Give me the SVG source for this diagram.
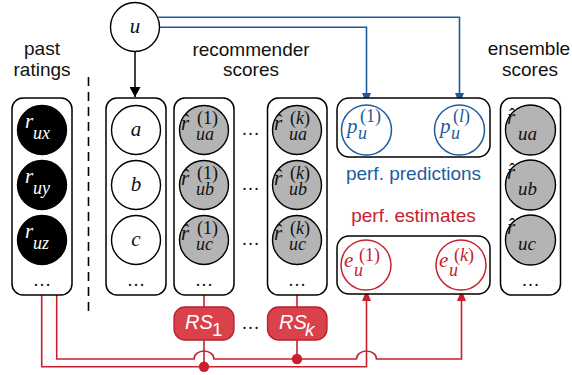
<svg xmlns="http://www.w3.org/2000/svg" width="572" height="375" viewBox="0 0 572 375">
<style>
.hdr{font-family:"Liberation Sans",Arial,sans-serif;font-size:19px;fill:#111;text-anchor:middle}
.box{fill:#fff;stroke:#000;stroke-width:1.5}
.cw{fill:#fff;stroke:#000;stroke-width:1.4}
.cg{fill:#b4b4b4;stroke:#000;stroke-width:1.4}
.cb{fill:#000;stroke:#000;stroke-width:1.4}
.mt{font-family:"Liberation Serif","Times New Roman",serif;fill:#111}
.m{font-style:italic;font-size:21px}
.h{font-style:normal;font-size:19px}
.s{font-style:italic;font-size:18px}
.n{font-style:normal;font-size:18px}
.w{fill:#fff}
.bl{fill:#1c5c9e}
.rd{fill:#c9202f}
.dots{font-family:"Liberation Serif","Times New Roman",serif;font-size:18px;fill:#111;text-anchor:middle}
.blue{stroke:#1c5c9e;fill:none;stroke-width:1.6}
.red{stroke:#c9202f;fill:none;stroke-width:1.6}
.cbl{fill:#fff;stroke:#1c5c9e;stroke-width:1.5}
.crd{fill:#fff;stroke:#c9202f;stroke-width:1.5}
.rs{fill:#d9414b;stroke:#b8212e;stroke-width:1.3}
.rst{font-family:"Liberation Sans",Arial,sans-serif;fill:#fff}
</style>
<defs>
<marker id="ab" markerWidth="10" markerHeight="11" refX="10" refY="5.5" orient="auto" markerUnits="userSpaceOnUse"><path d="M0,0 L10,5.5 L0,11 Z" fill="#000"/></marker>
<marker id="abl" markerWidth="11" markerHeight="9" refX="11" refY="4.5" orient="auto" markerUnits="userSpaceOnUse"><path d="M0,0 L11,4.5 L0,9 Z" fill="#1c5c9e"/></marker>
<marker id="ard" markerWidth="11" markerHeight="9" refX="11" refY="4.5" orient="auto" markerUnits="userSpaceOnUse"><path d="M0,0 L11,4.5 L0,9 Z" fill="#c9202f"/></marker>
</defs>

<g id="headers">
<text class="hdr" x="42" y="55">past</text>
<text class="hdr" x="42" y="75.5">ratings</text>
<text class="hdr" x="251" y="56">recommender</text>
<text class="hdr" x="251" y="76">scores</text>
<text class="hdr" x="529" y="55">ensemble</text>
<text class="hdr" x="530" y="76">scores</text>
<text x="413.5" y="180" style="font-family:'Liberation Sans',Arial,sans-serif;font-size:19px;fill:#1c5c9e;text-anchor:middle">perf. predictions</text>
<text x="413.5" y="221.5" style="font-family:'Liberation Sans',Arial,sans-serif;font-size:19px;fill:#c9202f;text-anchor:middle">perf. estimates</text>
</g>

<line x1="88.5" y1="77" x2="88.5" y2="315" stroke="#000" stroke-width="1.6" stroke-dasharray="9,6"/>

<g id="connectors">
<line x1="135" y1="52" x2="135" y2="97" stroke="#000" stroke-width="1.5" marker-end="url(#ab)"/>
<path class="blue" d="M158.5,17.3 H459.5 V104" marker-end="url(#abl)"/>
<path class="blue" d="M160,27.3 H366.5 V104" marker-end="url(#abl)"/>
<line class="red" x1="204" y1="295" x2="204" y2="307"/>
<line class="red" x1="297" y1="295" x2="297" y2="307"/>
<line class="red" x1="204" y1="340" x2="204" y2="366.7"/>
<line class="red" x1="297" y1="340" x2="297" y2="359"/>
<path class="red" d="M41.7,295 V366.7 H366.5 V290" marker-end="url(#ard)"/>
<path class="red" d="M56.7,295 V359 H194 A10,8 0 0 1 214,359 H356.5 A10,8 0 0 1 376.5,359 H461.5 V290" marker-end="url(#ard)"/>
<circle cx="204" cy="366.7" r="5.2" fill="#c9202f"/>
<circle cx="297" cy="359" r="5.2" fill="#c9202f"/>
</g>

<g id="node-u">
<circle class="cw" cx="135" cy="27" r="24.5"/>
<text class="mt m" x="135" y="33" text-anchor="middle">u</text>
</g>

<g id="col-past">
<rect class="box" x="12" y="98" width="60" height="197" rx="11"/>
<circle class="cb" cx="42" cy="130" r="24.5"/>
<text class="mt w"><tspan class="m" x="25" y="128">r</tspan><tspan class="s" x="33" y="139">ux</tspan></text>
<circle class="cb" cx="42" cy="185" r="24.5"/>
<text class="mt w"><tspan class="m" x="25" y="183">r</tspan><tspan class="s" x="33" y="194">uy</tspan></text>
<circle class="cb" cx="42" cy="240" r="24.5"/>
<text class="mt w"><tspan class="m" x="25" y="238">r</tspan><tspan class="s" x="33" y="249">uz</tspan></text>
<text class="dots" x="42" y="286">…</text>
</g>

<g id="col-items">
<rect class="box" x="106" y="98" width="60" height="197" rx="11"/>
<circle class="cw" cx="136" cy="130" r="24.5"/>
<text class="mt m" x="136" y="135.5" text-anchor="middle">a</text>
<circle class="cw" cx="136" cy="185" r="24.5"/>
<text class="mt m" x="136" y="190.5" text-anchor="middle">b</text>
<circle class="cw" cx="136" cy="240" r="24.5"/>
<text class="mt m" x="136" y="245.5" text-anchor="middle">c</text>
<text class="dots" x="136" y="286">…</text>
</g>

<g id="col-rs1">
<rect class="box" x="174" y="98" width="60" height="197" rx="11"/>
<circle class="cg" cx="204" cy="130" r="24.5"/>
<text class="mt"><tspan class="m" x="181" y="130">r</tspan><tspan class="h" x="183" y="127">ˆ</tspan><tspan class="n" x="197" y="124">(1)</tspan><tspan class="s" x="196" y="140">ua</tspan></text>
<circle class="cg" cx="204" cy="185" r="24.5"/>
<text class="mt"><tspan class="m" x="181" y="185">r</tspan><tspan class="h" x="183" y="182">ˆ</tspan><tspan class="n" x="197" y="179">(1)</tspan><tspan class="s" x="196" y="195">ub</tspan></text>
<circle class="cg" cx="204" cy="240" r="24.5"/>
<text class="mt"><tspan class="m" x="181" y="240">r</tspan><tspan class="h" x="183" y="237">ˆ</tspan><tspan class="n" x="197" y="234">(1)</tspan><tspan class="s" x="196" y="250">uc</tspan></text>
<text class="dots" x="204" y="286">…</text>
</g>

<g id="dots-between">
<text class="dots" x="250.5" y="135">…</text>
<text class="dots" x="250.5" y="190">…</text>
<text class="dots" x="250.5" y="245">…</text>
<text class="dots" x="250.5" y="329">…</text>
<text class="dots" x="413" y="135">…</text>
<text class="dots" x="413" y="272">…</text>
</g>

<g id="col-rsk">
<rect class="box" x="267.5" y="98" width="59.5" height="197" rx="11"/>
<circle class="cg" cx="297" cy="130" r="24.5"/>
<text class="mt"><tspan class="m" x="274" y="130">r</tspan><tspan class="h" x="276" y="127">ˆ</tspan><tspan class="n" x="290" y="124">(</tspan><tspan class="s">k</tspan><tspan class="n">)</tspan><tspan class="s" x="289" y="140">ua</tspan></text>
<circle class="cg" cx="297" cy="185" r="24.5"/>
<text class="mt"><tspan class="m" x="274" y="185">r</tspan><tspan class="h" x="276" y="182">ˆ</tspan><tspan class="n" x="290" y="179">(</tspan><tspan class="s">k</tspan><tspan class="n">)</tspan><tspan class="s" x="289" y="195">ub</tspan></text>
<circle class="cg" cx="297" cy="240" r="24.5"/>
<text class="mt"><tspan class="m" x="274" y="240">r</tspan><tspan class="h" x="276" y="237">ˆ</tspan><tspan class="n" x="290" y="234">(</tspan><tspan class="s">k</tspan><tspan class="n">)</tspan><tspan class="s" x="289" y="250">uc</tspan></text>
<text class="dots" x="297" y="286">…</text>
</g>

<g id="node-RS1">
<rect class="rs" x="174" y="307" width="60" height="33" rx="11"/>
<text class="rst"><tspan x="185" y="329" style="font-style:italic;font-size:20px">RS</tspan><tspan x="212" y="336" style="font-size:19px">1</tspan></text>
</g>
<g id="node-RSk">
<rect class="rs" x="267.5" y="307" width="59.5" height="33" rx="11"/>
<text class="rst"><tspan x="279" y="329" style="font-style:italic;font-size:20px">RS</tspan><tspan x="305" y="336" style="font-style:italic;font-size:19px">k</tspan></text>
</g>

<g id="node-pred">
<rect class="box" x="337" y="98" width="153" height="59" rx="12"/>
<circle class="cbl" cx="366.5" cy="130" r="25"/>
<text class="mt bl"><tspan class="m" x="347" y="133">p</tspan><tspan class="n" x="360" y="122">(1)</tspan><tspan class="s" x="358" y="139">u</tspan></text>
<circle class="cbl" cx="459.5" cy="130" r="25"/>
<text class="mt bl"><tspan class="m" x="440" y="133">p</tspan><tspan class="n" x="453" y="122">(</tspan><tspan class="s">l</tspan><tspan class="n">)</tspan><tspan class="s" x="451" y="139">u</tspan></text>
</g>

<g id="node-est">
<rect class="box" x="337" y="236" width="153" height="58" rx="12"/>
<circle class="crd" cx="366" cy="265" r="25"/>
<text class="mt rd"><tspan class="m" x="344" y="267">e</tspan><tspan class="n" x="359" y="261">(1)</tspan><tspan class="s" x="354" y="276">u</tspan></text>
<circle class="crd" cx="461" cy="265" r="25"/>
<text class="mt rd"><tspan class="m" x="439" y="267">e</tspan><tspan class="n" x="454" y="261">(</tspan><tspan class="s">k</tspan><tspan class="n">)</tspan><tspan class="s" x="449" y="276">u</tspan></text>
</g>

<g id="col-ens">
<rect class="box" x="500.5" y="98" width="60" height="197" rx="11"/>
<circle class="cg" cx="530.5" cy="130" r="25"/>
<text class="mt"><tspan class="m" x="507" y="124">r</tspan><tspan class="h" x="509" y="121">ˆ</tspan><tspan class="s" x="518" y="140" style="font-size:19px">ua</tspan></text>
<circle class="cg" cx="530.5" cy="185" r="25"/>
<text class="mt"><tspan class="m" x="507" y="179">r</tspan><tspan class="h" x="509" y="176">ˆ</tspan><tspan class="s" x="518" y="195" style="font-size:19px">ub</tspan></text>
<circle class="cg" cx="530.5" cy="240" r="25"/>
<text class="mt"><tspan class="m" x="507" y="234">r</tspan><tspan class="h" x="509" y="231">ˆ</tspan><tspan class="s" x="518" y="250" style="font-size:19px">uc</tspan></text>
<text class="dots" x="530.5" y="286">…</text>
</g>
</svg>
